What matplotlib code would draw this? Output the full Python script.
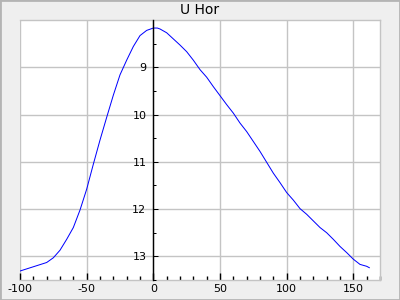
import numpy as np
import matplotlib.pyplot as plt
from matplotlib.patches import Rectangle
from matplotlib.ticker import MultipleLocator

# phase (x) vs magnitude (y)
phase = [-100, -80, -75, -70, -65, -60, -55, -50, -45, -40, -35, -30, -25, -20,
         -15, -10, -5, 0, 3, 5, 10, 15, 20, 25, 30, 35, 40, 45, 50, 55, 60, 65,
         70, 75, 80, 85, 90, 95, 100, 105, 110, 115, 120, 125, 130, 135, 140,
         145, 150, 155, 160, 162]
mag = [13.31, 13.13, 13.03, 12.87, 12.64, 12.39, 12.02, 11.58, 11.05, 10.54,
       10.06, 9.59, 9.16, 8.85, 8.56, 8.33, 8.22, 8.17, 8.17, 8.19, 8.27, 8.40,
       8.53, 8.67, 8.85, 9.05, 9.21, 9.41, 9.60, 9.79, 9.97, 10.18, 10.36,
       10.57, 10.78, 11.01, 11.24, 11.44, 11.65, 11.81, 11.99, 12.11, 12.25,
       12.39, 12.50, 12.64, 12.79, 12.92, 13.06, 13.17, 13.21, 13.24]

title = "U Hor"
grid_col = "#c4c4c4"

fig = plt.figure(figsize=(4, 3), dpi=100)
fig.patch.set_facecolor("#efefef")
fig.patches.append(Rectangle((0, 0), 1, 1, transform=fig.transFigure,
                             fill=False, ec="#b4b4b4", lw=2))
ax = fig.add_axes([0.05, 20 / 300, 0.90, 260 / 300])
ax.set_facecolor("white")

ax.plot(phase, mag, color="#0000ff", lw=0.72)

ax.set_xlim(-100, 170)
ax.set_ylim(13.5, 8)

ax.xaxis.set_major_locator(MultipleLocator(50))
ax.xaxis.set_minor_locator(MultipleLocator(10))

ax.grid(True, which="major", color=grid_col, lw=1)
ax.set_axisbelow(True)

for s in ["top", "right", "bottom"]:
    ax.spines[s].set_color(grid_col)
    ax.spines[s].set_linewidth(1)
ax.spines["left"].set_position(("data", 0))
ax.spines["left"].set_color("black")
ax.spines["left"].set_linewidth(1)
ax.spines["left"].set_zorder(3)

ax.tick_params(axis="x", which="major", direction="in", length=5, width=1,
               labelsize=8, pad=3, colors="black")
ax.tick_params(axis="x", which="minor", direction="in", length=3, width=1)
ax.tick_params(axis="y", which="major", length=0, labelsize=8, pad=5)

# ticks on the right side of the y axis line
for v in np.arange(8.5, 13.6, 0.5):
    L = 5 if float(v).is_integer() else 3
    ax.plot([0, L / 1.3333], [v, v], color="black", lw=0.72, clip_on=False,
            zorder=3, solid_capstyle="butt")

ax.set_yticks([9, 10, 11, 12, 13])
ax.set_xticks([-100, -50, 0, 50, 100, 150])
ax.set_xticklabels(["-100", "-50", "0", "50", "100", "150"])
ax.set_title(title, fontsize=10, pad=4)

plt.savefig("out.png", dpi=100, facecolor=fig.get_facecolor())
